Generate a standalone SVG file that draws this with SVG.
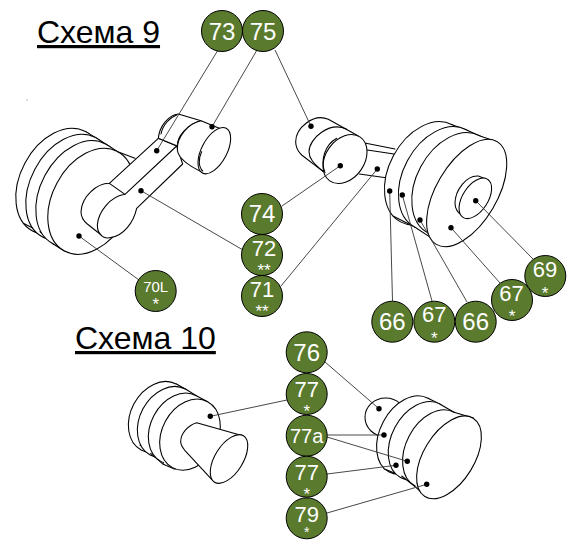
<svg xmlns="http://www.w3.org/2000/svg" width="573" height="540" viewBox="0 0 573 540">
<style>
text{font-family:"Liberation Sans",Arial,sans-serif}
.t{font-size:32px;fill:#000;text-decoration:underline}
.b{fill:#5a7a2e;stroke:#000;stroke-width:1}
.n{font-size:24px;fill:#fff;text-anchor:middle}
.m{font-size:22px;fill:#fff;text-anchor:middle}
.s{font-size:15px;fill:#fff;text-anchor:middle}
.a{font-size:17px;fill:#fff;text-anchor:middle}
.p path,.p ellipse{fill:#fff;stroke:#000;stroke-width:3.2;stroke-linecap:round;stroke-linejoin:round}
.p path.o{fill:none}
.c line{stroke:#333;stroke-width:.9;marker-end:url(#d)}
</style>
<defs>
<marker id="d" markerUnits="userSpaceOnUse" markerWidth="7" markerHeight="7" refX="3.5" refY="3.5"><circle cx="3.5" cy="3.5" r="2.7" fill="#000"/></marker>
</defs>
<rect width="573" height="540" fill="#fff"/>
<text class="t" x="37" y="43">Схема 9</text>
<text class="t" x="75" y="349">Схема 10</text>
<circle cx="27" cy="100" r=".6" fill="#666"/>

<g id="part-left" class="p" transform="translate(0,90) scale(.33333)">
<ellipse cx="177" cy="274" rx="169" ry="116" transform="rotate(-62 177 274)"/>
<path d="M257 125L287 143L120 425L70 400"/>
<ellipse cx="207" cy="292" rx="169" ry="116" transform="rotate(-62 207 292)"/>
<path d="M287 143L317 162L160 462L120 425"/>
<ellipse cx="237" cy="311" rx="169" ry="116" transform="rotate(-62 237 311)"/>
<path d="M317 162L353 185L193 483L160 462"/>
<ellipse cx="273" cy="334" rx="169" ry="116" transform="rotate(-62 273 334)"/>
<path d="M353 185L405 205" class="o"/>
<path d="M475 145L328 280C290 280 245 320 243 365C243 380 250 392 262 402L300 432C310 445 325 445 335 442C370 435 400 400 410 355L548 222L530 168Z"/>
<path class="o" d="M328 280L375 313C330 320 295 365 292 405C292 420 296 430 305 437M375 313L530 168"/>
<path d="M475 145C478 110 505 75 535 72L603 92C565 100 530 140 532 168Z"/>
<path class="o" d="M483 132C488 105 510 82 530 75"/>
<path d="M603 92C565 100 530 140 532 180C535 205 560 225 610 248L665 118Z"/>
<ellipse cx="643" cy="182" rx="76" ry="38" transform="rotate(-62 643 182)"/>
<path class="o" d="M605 185C595 205 595 230 608 243"/>
</g>

<g id="part-right-small" class="p" transform="translate(280,100) scale(.33333)">
<path class="o" d="M258 130L345 147M262 150L342 162M238 222L318 233"/>
<path d="M235 108L145 58C100 38 47 85 47 125C47 145 55 155 65 165L130 215Z"/>
<path class="o" d="M200 88C150 62 87 115 87 155C87 175 100 190 130 215"/>
<ellipse cx="195" cy="177" rx="80" ry="58" transform="rotate(-55 195 177)"/>
<path class="o" d="M170 115C135 135 120 180 135 218"/>
</g>

<g id="part-right-large" class="p" transform="translate(280,100) scale(.33333)">
<ellipse cx="439" cy="220" rx="165" ry="112" transform="rotate(-62 439 220)"/>
<path d="M516 74L558 89L404 381L339 348"/>
<ellipse cx="481" cy="235" rx="165" ry="112" transform="rotate(-62 481 235)"/>
<path d="M558 89L598 107L448 410L404 381"/>
<ellipse cx="521" cy="253" rx="165" ry="112" transform="rotate(-62 521 253)"/>
<path d="M598 107L651 125L485 437L448 410"/>
<ellipse cx="560" cy="279" rx="179" ry="91" transform="rotate(-59.400 560 279)"/>
<path class="o" d="M625 240L595 228C560 225 525 270 525 310C525 325 535 340 548 348"/>
<ellipse cx="586" cy="295" rx="68" ry="38" transform="rotate(-57 586 295)"/>
</g>

<g id="part-bottom-left" class="p" transform="translate(120,330) scale(.33333)">
<ellipse cx="116" cy="261" rx="112" ry="84" transform="rotate(-62 116 261)"/>
<path d="M169 162L196 177L92 370L60 345"/>
<ellipse cx="143" cy="276" rx="112" ry="84" transform="rotate(-62 143 276)"/>
<path d="M196 177L229 197L130 403L92 370"/>
<ellipse cx="176" cy="296" rx="112" ry="84" transform="rotate(-62 176 296)"/>
<path d="M229 197L263 215L165 418L130 403"/>
<ellipse cx="210" cy="314" rx="112" ry="84" transform="rotate(-62 210 314)"/>
<path d="M360 315L230 278C205 285 182 310 182 335C182 345 190 355 195 362L275 448Z"/>
<ellipse cx="327" cy="387" rx="82" ry="42" transform="rotate(-58 327 387)"/>
</g>

<g id="part-bottom-right" class="p" transform="translate(120,330) scale(.33333)">
<ellipse cx="797" cy="262" rx="62" ry="58"/>
<ellipse cx="865" cy="315" rx="125" ry="85" transform="rotate(-62 865 315)"/>
<path d="M924 205L959 222L845 438L792 416"/>
<ellipse cx="900" cy="332" rx="125" ry="85" transform="rotate(-62 900 332)"/>
<path d="M959 222L1002 247L885 470L845 438"/>
<ellipse cx="943" cy="357" rx="125" ry="85" transform="rotate(-62 943 357)"/>
<path d="M1002 247L1060 264L922 503L885 470"/>
<ellipse cx="987" cy="382" rx="138" ry="76" transform="rotate(-58.300 987 382)"/>
</g>

<g id="connectors" class="c">
<line x1="218" y1="50" x2="156.7" y2="150.7"/>
<line x1="257" y1="50" x2="212" y2="126.7"/>
<line x1="275" y1="50" x2="311" y2="126.3"/>
<line x1="282" y1="206" x2="340.3" y2="165.7"/>
<line x1="243" y1="250" x2="141" y2="190.7"/>
<line x1="281" y1="286" x2="377.3" y2="169"/>
<line x1="139" y1="280" x2="79" y2="236"/>
<line x1="392.5" y1="301" x2="389.7" y2="191"/>
<line x1="432" y1="301" x2="402.3" y2="195"/>
<line x1="467" y1="302" x2="420" y2="220"/>
<line x1="500" y1="283" x2="451" y2="227.7"/>
<line x1="533" y1="259" x2="475.7" y2="200.7"/>
<line x1="325" y1="362" x2="379" y2="408.7"/>
<line x1="287" y1="400" x2="210.3" y2="416.3"/>
<line x1="327" y1="435" x2="384" y2="435"/>
<line x1="327" y1="437" x2="407.3" y2="461.3"/>
<line x1="327" y1="474" x2="396" y2="465.3"/>
<line x1="327" y1="513" x2="426.7" y2="484.3"/>
</g>

<g id="n73"><circle class="b" cx="222" cy="31" r="20.5"/><text class="n" x="222" y="39.500">73</text></g>
<g id="n75"><circle class="b" cx="263" cy="31" r="20.5"/><text class="n" x="263" y="39.500">75</text></g>
<g id="n74"><circle class="b" cx="262" cy="214" r="20.5"/><text class="n" x="262" y="222">74</text></g>
<g id="n72"><circle class="b" cx="262" cy="255" r="20.5"/><text class="m" x="264" y="256">72</text><text class="a" x="264" y="276">**</text></g>
<g id="n71"><circle class="b" cx="262" cy="296" r="20.5"/><text class="m" x="262" y="297">71</text><text class="a" x="262" y="317">**</text></g>
<g id="n70L"><circle class="b" cx="155.7" cy="291" r="20.5"/><text class="s" x="155.7" y="292">70L</text><text class="a" x="155.7" y="310">*</text></g>
<g id="n66a"><circle class="b" cx="392.3" cy="321.7" r="20.5"/><text class="n" x="392.3" y="330">66</text></g>
<g id="n67a"><circle class="b" cx="434.3" cy="321.7" r="20.5"/><text class="m" x="434.3" y="321.700">67</text><text class="a" x="434.300" y="344">*</text></g>
<g id="n66b"><circle class="b" cx="475.7" cy="321.7" r="20.5"/><text class="n" x="475.7" y="330">66</text></g>
<g id="n67b"><circle class="b" cx="512" cy="300" r="20.5"/><text class="m" x="511.500" y="300.700">67</text><text class="a" x="512" y="322">*</text></g>
<g id="n69"><circle class="b" cx="545.3" cy="276" r="20.5"/><text class="m" x="545" y="276.700">69</text><text class="a" x="545" y="299">*</text></g>
<g id="n76"><circle class="b" cx="306.7" cy="352.3" r="20.5"/><text class="n" x="306.7" y="360.500">76</text></g>
<g id="n77a"><circle class="b" cx="306.7" cy="394" r="20.5"/><text class="m" x="306.7" y="396.700">77</text><text class="a" x="306.7" y="417">*</text></g>
<g id="n77x"><circle class="b" cx="306.7" cy="435.7" r="20.5"/><text class="n" style="font-size:20px" x="306.7" y="443">77a</text></g>
<g id="n77b"><circle class="b" cx="306.7" cy="476.7" r="20.5"/><text class="m" x="306.7" y="480">77</text><text class="a" x="306.7" y="500">*</text></g>
<g id="n79"><circle class="b" cx="306.7" cy="518.3" r="20.5"/><text class="m" x="306.7" y="521.700">79</text><text class="a" style="font-size:14px" x="306.7" y="536.500">*</text></g>
</svg>
